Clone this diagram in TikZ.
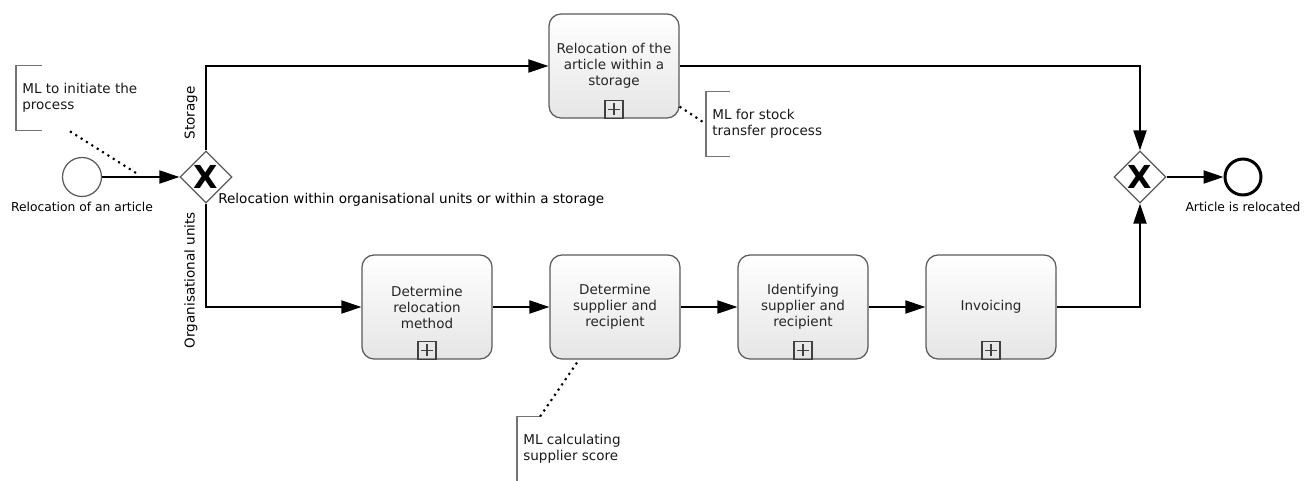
\documentclass[tikz,border=0pt]{standalone}
\usepackage{fontspec}
\setmainfont{DejaVu Sans}
\usepackage{tikz}
\usetikzlibrary{shapes.geometric, arrows.meta, positioning, calc}
\newcommand{\bpmnfont}{\fontsize{7.7}{9.1}\selectfont}
\newcommand{\submark}[1]{\node[Marker, above=0pt of #1.south] {};}

\begin{document}
\begin{tikzpicture}
  [
    x=0.02cm, y=-0.02cm,
    font=\bpmnfont,
    Task/.style={rectangle, rounded corners=0.24cm, draw=black!65, line width=0.7pt, top color=white, bottom color=gray!20, minimum width=2.6cm, minimum height=2.08cm, align=center, text=black!85, inner sep=2pt},
    Gateway/.style={diamond, draw=black!65, line width=0.7pt, fill=white, minimum size=1.04cm, inner sep=0pt, font=\fontsize{18}{18}\selectfont\bfseries},
    StartEv/.style={circle, draw=black!65, line width=0.7pt, fill=white, minimum size=0.78cm, inner sep=0pt},
    EndEv/.style={circle, draw=black, line width=1.7pt, fill=white, minimum size=0.72cm, inner sep=0pt},
    Marker/.style={rectangle, draw=black!75, line width=0.6pt, minimum size=0.36cm, inner sep=0pt,
      path picture={
        \draw[black!75, line width=0.6pt] ([yshift=0.12cm]path picture bounding box.center) -- ([yshift=-0.12cm]path picture bounding box.center);
        \draw[black!75, line width=0.6pt] ([xshift=-0.12cm]path picture bounding box.center) -- ([xshift=0.12cm]path picture bounding box.center);
      }},
    Note/.style={anchor=west, align=left, minimum height=1.28cm, inner xsep=0.12cm, text=black!90},
    Bracket/.style={draw=black!55, line width=0.7pt},
    Flow/.style={draw, line width=1.1pt, -{Triangle[length=4mm, width=2.6mm]}},
    Assoc/.style={draw, line width=1.2pt, dash pattern=on 1.2pt off 2.4pt},
    Small/.style={font=\fontsize{7}{8.4}\selectfont, inner sep=0pt}
  ]
  \useasboundingbox (0,0) rectangle (1311,480);
  % Nodes
  \node[StartEv] (start) at (82,177) {};
  \node[Small, below=0.1cm of start] (startlbl) {Relocation of an article};
  \node[Gateway] (gw1) at (206,177) {X};
  \node[Task] (reloc) at (614,66) {Relocation of the\\article within a\\storage};
  \node[Task] (t1) at (427,307) {Determine\\relocation\\method};
  \node[Task] (t2) at (615,307) {Determine\\supplier and\\recipient};
  \node[Task] (t3) at (803,307) {Identifying\\supplier and\\recipient};
  \node[Task] (t4) at (991,307) {Invoicing};
  \node[Gateway] (gw2) at (1140,177) {X};
  \node[EndEv] (end) at (1243,177) {};
  \node[Small, below=0.1cm of end] (endlbl) {Article is relocated};
  \submark{reloc}
  \submark{t1}
  \submark{t3}
  \submark{t4}
  % Labels
  \node[rotate=90, inner sep=0pt] (storlbl) at (191,113) {Storage};
  \node[rotate=90, inner sep=0pt] (orglbl) at (191,280) {Organisational units};
  \node[anchor=west, inner sep=0pt] (gwlbl) at (218,200) {Relocation within organisational units or within a storage};
  % Annotations
  \node[Note] (ann1) at (16,98) {ML to initiate the\\process};
  \node[Note] (ann2) at (706,124) {ML for stock\\transfer process};
  \node[Note] (ann3) at (517,449) {ML calculating\\supplier score};
  \path[Bracket] ($(ann1.north west)+(26,0)$) -- (ann1.north west) -- (ann1.south west) -- +(26,0);
  \path[Bracket] ($(ann2.north west)+(24,0)$) -- (ann2.north west) -- (ann2.south west) -- +(24,0);
  \path[Bracket] ($(ann3.north west)+(23,0)$) -- (ann3.north west) -- (ann3.south west) -- +(23,0);
  \coordinate (c1) at ($(start.east)!0.48!(gw1.west)$);
  % Lines
  \path[Flow] (start) -- (gw1);
  \path[Flow] (gw1.north) |- (reloc.west);
  \path[Flow] (reloc.east) -| (gw2.north);
  \path[Flow] (gw1.south) |- (t1.west);
  \path[Flow] (t1) -- (t2);
  \path[Flow] (t2) -- (t3);
  \path[Flow] (t3) -- (t4);
  \path[Flow] (t4.east) -| (gw2.south);
  \path[Flow] (gw2) -- (end);
  \path[Assoc] ($(ann1.south west)+(54,1)$) -- ($(c1)+(0,-2)$);
  \path[Assoc] ($(reloc.south east)+(0,-12)$) -- (ann2.west);
  \path[Assoc] ($(t2.south)+(-38,3)$) -- ($(ann3.north west)+(23,0)$);
\end{tikzpicture}
\end{document}
